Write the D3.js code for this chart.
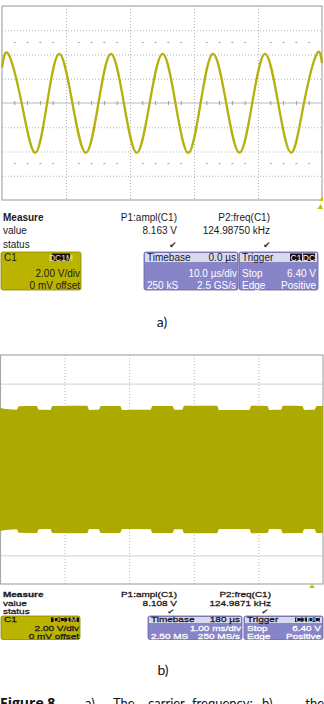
<!DOCTYPE html>
<html>
<head>
<meta charset="utf-8">
<script src="https://cdn.jsdelivr.net/npm/d3@7"></script>
<style>
  body { margin: 0; background: #fff; }
  svg { display: block; }
</style>
</head>
<body>
<svg id="fig" width="324" height="704"></svg>
<script>

// a) carrier, 10 us/div, 2 V/div  (peaks, troughs and zero crossings read off the trace)
var carrierTime = [0, 0.98, 3.07, 5.16, 7.05, 8.95, 11.0, 13.1, 15.07, 17.03, 19.04, 21.05, 23.07, 25.1, 27.1, 29.1, 31.03, 32.97, 35.03, 37.1, 39.1, 41.1, 43.15, 45.2, 47.18, 49.17, 50];
var carrierVolt = [2.93, 4.05, 0, -4.1, 0, 4.05, 0, -4.1, 0, 4.05, 0, -4.1, 0, 4.05, 0, -4.1, 0, 4.05, 0, -4.1, 0, 4.05, 0, -4.1, 0, 4.05, 3.3];

// b) modulated signal, 1 ms/div: envelope of the dense carrier (ms, V)
var envTime = [0, 0.26, 0.29, 0.57, 0.60, 0.78, 0.81, 1.35, 1.38, 1.53, 1.56, 1.86, 1.89, 2.33, 2.36, 2.67, 2.70, 2.82, 2.85, 3.36, 3.39, 3.86, 3.89, 4.14, 4.17, 4.35, 4.38, 4.68, 4.71, 4.87, 4.90, 5.0];
var envAmp  = [4.30, 4.18, 4.42, 4.44, 4.17, 4.16, 4.43, 4.46, 4.16, 4.17, 4.44, 4.43, 4.16, 4.17, 4.44, 4.44, 4.18, 4.17, 4.46, 4.45, 4.16, 4.16, 4.45, 4.44, 4.16, 4.17, 4.45, 4.44, 4.16, 4.17, 4.43, 4.43];

// measurement panels
var measLabels = ["Measure", "value", "status"];
var paramNames = ["P1:ampl(C1)", "P2:freq(C1)"];
var paramValuesA = ["8.163 V", "124.98750 kHz"];
var paramValuesB = ["8.108 V", "124.9871 kHz"];
var channelA = ["C1", "DC1M", "2.00 V/div", "0 mV offset"];
var channelB = ["C1", "DC1M", "2.00 V/div", "0 mV offset"];
var timebaseA = ["Timebase", "0.0 µs", "10.0 µs/div", "250 kS", "2.5 GS/s"];
var timebaseB = ["Timebase", "180 µs", "1.00 ms/div", "2.50 MS", "250 MS/s"];
var triggerA = ["Trigger", "C1", "DC", "Stop", "6.40 V", "Edge", "Positive"];
var triggerB = ["Trigger", "C1", "DC", "Stop", "6.40 V", "Edge", "Positive"];

var captionWords = ["a)", "The", "carrier", "frequency;", "b)", "the"];

var svg = d3.select("#fig");
var trace = "#b6b00c", band = "#aca900";

function txt(g, x, y, s, o) {
  o = o || {};
  var t = g.append("text")
      .attr("transform", "translate(" + x + "," + y + ") scale(1," + (o.sy || 1) + ")")
      .attr("text-anchor", o.anchor || "start")
      .attr("font-family", "'Liberation Sans', Arial, sans-serif")
      .attr("font-size", o.size || 10)
      .attr("font-weight", o.bold ? "bold" : "normal")
      .attr("fill", o.fill || "#1a1a1a")
      .text(s);
  if (o.heavy) t.attr("stroke", o.fill || "#1a1a1a").attr("stroke-width", 0.35);
  return t;
}

// ---------- scope screens ----------
function drawScreen(x, y, box, opts) {
  var g = svg.append("g");
  var left = box.left, right = box.right, top = box.top, bottom = box.bottom;

  // grid
  g.append("g")
      .attr("transform", "translate(0," + top + ")")
      .call(d3.axisBottom(x).tickValues(opts.xDivs).tickSize(bottom - top).tickFormat(""))
      .call(function(a) { a.select(".domain").remove(); })
      .selectAll("line").attr("stroke", "#b4b4b4").attr("stroke-dasharray", "1,2");

  g.append("g")
      .attr("transform", "translate(" + left + ",0)")
      .call(d3.axisRight(y).tickValues(opts.yDivs).tickSize(right - left).tickFormat(""))
      .call(function(a) { a.select(".domain").remove(); })
      .selectAll("line").attr("stroke", opts.hStroke).attr("stroke-dasharray", opts.hDash);

  if (opts.center) {
    g.append("line").attr("x1", left).attr("x2", right).attr("y1", y(0)).attr("y2", y(0))
        .attr("stroke", "#b8b8b8");
    g.append("g").selectAll("line").data(opts.minor).join("line")
        .attr("x1", function(d) { return x(d); }).attr("x2", function(d) { return x(d); })
        .attr("y1", y(0) - 2).attr("y2", y(0) + 2).attr("stroke", "#9a9a9a");
    [5, -5].forEach(function(v) {
      g.append("g").selectAll("line").data(opts.minor).join("line")
          .attr("x1", function(d) { return x(d) - 1; }).attr("x2", function(d) { return x(d) + 1; })
          .attr("y1", y(v)).attr("y2", y(v)).attr("stroke", "#a0a0a0");
    });
  }

  g.append("rect")
      .attr("x", left).attr("y", top).attr("width", right - left).attr("height", bottom - top)
      .attr("fill", "none").attr("stroke", "#a8a8a8").attr("stroke-width", 1.2);
  return g;
}

// a)
var xA = d3.scaleLinear().domain([0, 50]).range([2, 322]);
var yA = d3.scaleLinear().domain([-8, 8]).range([200, 6]);
var gA = drawScreen(xA, yA, {left: 2, right: 322, top: 6, bottom: 200}, {
  xDivs: [10, 20, 30, 40], yDivs: [-6, -4, -2, 2, 4, 6],
  hStroke: "#b4b4b4", hDash: "1,2", center: true,
  minor: [2, 4, 6, 8, 12, 14, 16, 18, 22, 24, 26, 28, 32, 34, 36, 38, 42, 44, 46, 48]
});

var line = d3.line()
    .x(function(d, i) { return xA(carrierTime[i]); })
    .y(function(d) { return yA(d); })
    .curve(d3.curveNatural);

gA.append("path")
    .datum(carrierVolt)
    .attr("fill", "none")
    .attr("stroke", trace)
    .attr("stroke-width", 2.3)
    .attr("stroke-linejoin", "round")
    .attr("d", line);

// b)
var xB = d3.scaleLinear().domain([0, 5]).range([0, 323]);
var yB = d3.scaleLinear().domain([-8, 8]).range([584, 355]);
var gB = drawScreen(xB, yB, {left: 0.5, right: 323, top: 355, bottom: 584}, {
  xDivs: [1, 2, 3, 4], yDivs: [-6, -4, -2, 2, 4, 6],
  hStroke: "#d2d2d2", hDash: null, center: false
});

var area = d3.area()
    .x(function(d, i) { return xB(envTime[i]); })
    .y0(function(d) { return yB(-d); })
    .y1(function(d) { return yB(d); })
    .curve(d3.curveMonotoneX);

gB.append("path")
    .datum(envAmp)
    .attr("fill", band)
    .attr("d", area);

// ---------- measurement panels ----------
function drawMeasure(L, vals, ch, tb, tr) {
  var g = svg.append("g");
  var base = {sy: L.sy, size: L.size, heavy: L.heavy};
  function o(extra) { return Object.assign({}, base, extra || {}); }

  measLabels.forEach(function(s, i) {
    txt(g, 3, L.rows[i], s, o({bold: i === 0}));
  });
  paramNames.forEach(function(s, i) {
    txt(g, L.paramX[i], L.rows[0], s, o({anchor: "end"}));
    txt(g, L.paramX[i], L.rows[1], vals[i], o({anchor: "end"}));
    txt(g, L.checkX[i], L.rows[2], "\u2714", o({size: L.size - 1, anchor: "middle", fill: "#333", heavy: false}));
  });

  var bt = L.boxTop, bh = L.boxBottom - L.boxTop, r = L.boxRows;

  // channel box
  g.append("rect").attr("x", L.ch[0]).attr("y", bt).attr("width", L.ch[1] - L.ch[0]).attr("height", bh)
      .attr("rx", 2).attr("fill", "#bab400").attr("stroke", "#8c8700").attr("stroke-width", 0.8);
  txt(g, L.ch[0] + 3, r[0], ch[0], o());
  g.append("rect").attr("x", L.badge[0]).attr("y", bt + 1.5).attr("width", L.badge[1] - L.badge[0])
      .attr("height", L.head - 2.5).attr("fill", "#111");
  txt(g, (L.badge[0] + L.badge[1]) / 2, r[0], ch[1], o({size: L.size - 1.5, anchor: "middle", fill: "#e8e4a0", heavy: false}));
  txt(g, L.ch[1] - 1, r[1], ch[2], o({anchor: "end"}));
  txt(g, L.ch[1] - 1, r[2], ch[3], o({anchor: "end"}));

  // timebase and trigger boxes
  [[L.tb, tb], [L.tr, tr]].forEach(function(b, k) {
    var x0 = b[0][0], x1 = b[0][1], s = b[1];
    g.append("rect").attr("x", x0).attr("y", bt).attr("width", x1 - x0).attr("height", bh)
        .attr("rx", 2).attr("fill", "#8784c8").attr("stroke", "#6663a6").attr("stroke-width", 0.8);
    g.append("rect").attr("x", x0 + 1).attr("y", bt + 1).attr("width", x1 - x0 - 2).attr("height", L.head - 1)
        .attr("fill", "#d9d8ec");
    txt(g, x0 + 3, r[0], s[0], o());
    if (k === 0) {
      txt(g, x1 - 2, r[0], s[1], o({anchor: "end"}));
      txt(g, x1 - 1, r[1], s[2], o({anchor: "end", fill: "#fff"}));
      txt(g, x0 + 3, r[2], s[3], o({fill: "#fff"}));
      txt(g, x1 - 2, r[2], s[4], o({anchor: "end", fill: "#fff"}));
    } else {
      var bw = L.badgeW;
      [s[1], s[2]].forEach(function(lab, j) {
        var bx = x1 - 2 - (2 - j) * (bw + 1);
        g.append("rect").attr("x", bx).attr("y", bt + 1.5).attr("width", bw).attr("height", L.head - 2.5).attr("fill", "#111");
        txt(g, bx + bw / 2, r[0], lab, o({size: L.size - 1.5, anchor: "middle", fill: "#fff", heavy: false}));
      });
      txt(g, x0 + 3, r[1], s[3], o({fill: "#fff"}));
      txt(g, x1 - 2, r[1], s[4], o({anchor: "end", fill: "#fff"}));
      txt(g, x0 + 3, r[2], s[5], o({fill: "#fff"}));
      txt(g, x1 - 2, r[2], s[6], o({anchor: "end", fill: "#fff"}));
    }
  });
}

drawMeasure({
  sy: 1, size: 10, heavy: false,
  rows: [220.5, 233.5, 247.5], paramX: [177, 270], checkX: [173, 267],
  boxTop: 252, boxBottom: 290, head: 10, boxRows: [260.5, 276.5, 288.5],
  ch: [1, 81], badge: [52, 70], tb: [144, 238], tr: [239, 318], badgeW: 12
}, paramValuesA, channelA, timebaseA, triggerA);

drawMeasure({
  sy: 0.74, size: 10, heavy: true,
  rows: [597, 605.5, 614], paramX: [177, 271], checkX: [171, 265],
  boxTop: 616, boxBottom: 639.5, head: 7, boxRows: [622, 630.5, 638.5],
  ch: [1, 80], badge: [51, 79], tb: [148, 242], tr: [244, 323], badgeW: 12
}, paramValuesB, channelB, timebaseB, triggerB);

// little trigger markers
svg.append("path").attr("d", "M317,209 L321,204 L323,209 Z").attr("fill", "#c8c000");
svg.append("path").attr("d", "M319,201 L323,196 L323,201 Z").attr("fill", "#c8c000");
svg.append("path").attr("d", "M309,588 L312,584 L315,588 Z").attr("fill", "#c8c000");

// ---------- captions ----------
function capText(x, y, s, anchor, bold, size, family) {
  return svg.append("text").attr("x", x).attr("y", y).attr("text-anchor", anchor)
      .attr("font-family", family || "Lato, 'Open Sans', sans-serif")
      .attr("font-size", size || 14)
      .attr("font-weight", bold ? "bold" : "normal")
      .attr("fill", "#111")
      .text(s);
}
capText(162, 327, "a)", "middle");
capText(163, 675, "b)", "middle");
capText(0, 707.5, "Figure 8.", "start", true, 14, "'Open Sans', sans-serif");
var capX = [85, 113, 148, 192, 262, 324];
captionWords.forEach(function(w, i) {
  capText(capX[i], 707.5, w, i === captionWords.length - 1 ? "end" : "start", false, 13);
});

</script>
</body>
</html>
